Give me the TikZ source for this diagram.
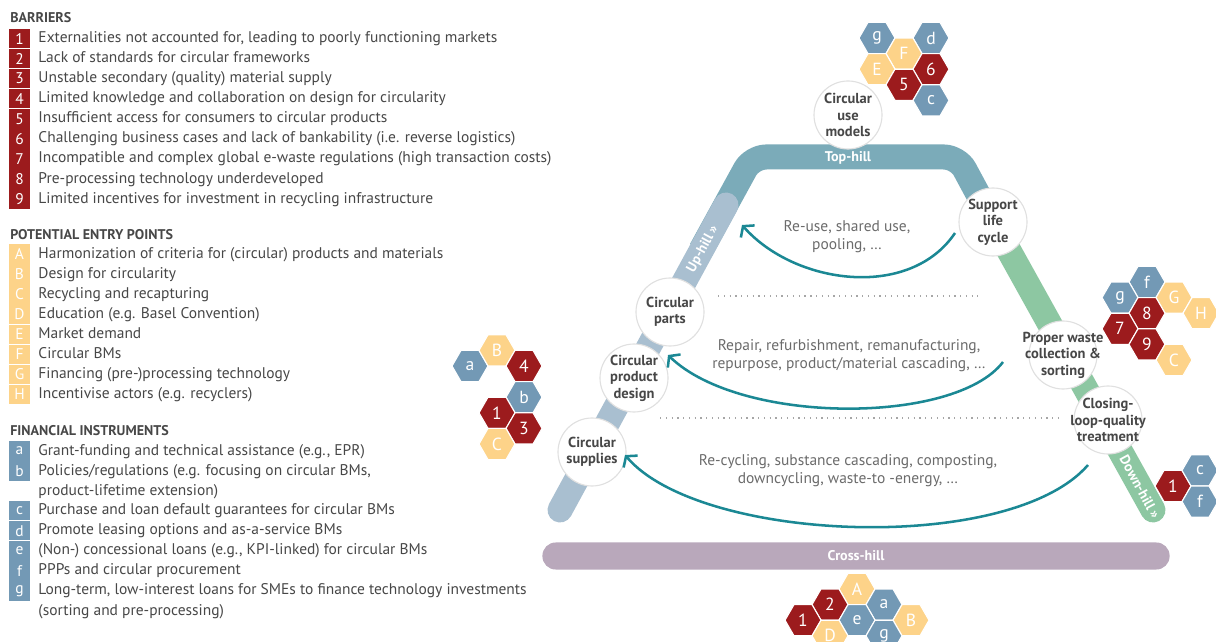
\documentclass[tikz,border=0pt]{standalone}
\usepackage{fontspec}
\setmainfont{PT Sans}
\usetikzlibrary{shapes.geometric, positioning, arrows.meta}

\definecolor{barred}{HTML}{9C1B1D}
\definecolor{baryel}{HTML}{FDD389}
\definecolor{barblu}{HTML}{7399B5}
\definecolor{txt}{HTML}{474747}
\definecolor{softtxt}{HTML}{6B6B6B}
\definecolor{tophill}{HTML}{7BABB9}
\definecolor{uphill}{HTML}{A9BFD0}
\definecolor{downhill}{HTML}{8DC7A2}
\definecolor{crosshill}{HTML}{B9A8BB}
\definecolor{loopcol}{HTML}{1B8894}

\begin{document}
\begin{tikzpicture}[
    x=.025cm, y=-.025cm,
    head/.style={
        anchor=west, inner sep=0pt, font=\bfseries, text=txt
    },
    key/.style={
        inner sep=0pt, minimum width=.5cm, minimum height=.4875cm, text=white,
        font=\fontsize{11}{13}\selectfont
    },
    keyR/.style={key, fill=barred},
    keyY/.style={key, fill=baryel},
    keyB/.style={key, fill=barblu},
    item/.style={
        inner sep=0pt, minimum height=.4875cm, text=txt,
        text height=1.6ex, text depth=.45ex, font=\fontsize{11}{13}\selectfont
    },
    hex/.style={
        regular polygon, regular polygon sides=6, minimum size=.9cm, inner sep=0pt,
        draw=white, line width=.8pt, text=white, font=\fontsize{12.5}{14}\selectfont
    },
    hexR/.style={hex, fill=barred},
    hexY/.style={hex, fill=baryel},
    hexB/.style={hex, fill=barblu},
    stage/.style={
        draw=black!12, line width=.8pt, fill=white, circle, minimum size=1.7cm,
        inner sep=-11pt, align=center, font=\bfseries\fontsize{10.3}{11.7}\selectfont, text=txt
    },
    band/.style={line width=.625cm},
    bandlbl/.style={
        inner sep=0pt, text=white, font=\bfseries
    },
    loopar/.style={
        draw=loopcol, line width=1.8pt, -{Straight Barb[length=5pt, width=13pt]}
    },
    looplbl/.style={
        align=center, text=softtxt, inner sep=0pt, font=\fontsize{11}{12.8}\selectfont
    },
    sep/.style={
        draw=black!35, line width=.9pt, dash pattern=on .9pt off 3.2pt
    }
]
    \clip (0,0) rectangle (1216,642);

    % barriers
    \node[head] (hbar) at (10,18) {BARRIERS};
    \node[keyR] (k1) at (19.5,38.5) {1};
    \node[keyR,below=0pt of k1] (k2) {2};
    \node[keyR,below=0pt of k2] (k3) {3};
    \node[keyR,below=0pt of k3] (k4) {4};
    \node[keyR,below=0pt of k4] (k5) {5};
    \node[keyR,below=0pt of k5] (k6) {6};
    \node[keyR,below=0pt of k6] (k7) {7};
    \node[keyR,below=0pt of k7] (k8) {8};
    \node[keyR,below=0pt of k8] (k9) {9};
    \node[item,right=.21cm of k1] (t1) {Externalities not accounted for, leading to poorly functioning markets};
    \node[item,right=.21cm of k2] (t2) {Lack of standards for circular frameworks};
    \node[item,right=.21cm of k3] (t3) {Unstable secondary (quality) material supply};
    \node[item,right=.21cm of k4] (t4) {Limited knowledge and collaboration on design for circularity};
    \node[item,right=.21cm of k5] (t5) {Insufficient access for consumers to circular products};
    \node[item,right=.21cm of k6] (t6) {Challenging business cases and lack of bankability (i.e. reverse logistics)};
    \node[item,right=.21cm of k7] (t7) {Incompatible and complex global e-waste regulations (high transaction costs)};
    \node[item,right=.21cm of k8] (t8) {Pre-processing technology underdeveloped};
    \node[item,right=.21cm of k9] (t9) {Limited incentives for investment in recycling infrastructure};

    % entry points
    \node[head] (hent) at (10,235) {POTENTIAL ENTRY POINTS};
    \node[keyY] (kA) at (19.5,254) {A};
    \node[keyY,below=0pt of kA] (kB) {B};
    \node[keyY,below=0pt of kB] (kC) {C};
    \node[keyY,below=0pt of kC] (kD) {D};
    \node[keyY,below=0pt of kD] (kE) {E};
    \node[keyY,below=0pt of kE] (kF) {F};
    \node[keyY,below=0pt of kF] (kG) {G};
    \node[keyY,below=0pt of kG] (kH) {H};
    \node[item,right=.21cm of kA] (tA) {Harmonization of criteria for (circular) products and materials};
    \node[item,right=.21cm of kB] (tB) {Design for circularity};
    \node[item,right=.21cm of kC] (tC) {Recycling and recapturing};
    \node[item,right=.21cm of kD] (tD) {Education (e.g. Basel Convention)};
    \node[item,right=.21cm of kE] (tE) {Market demand};
    \node[item,right=.21cm of kF] (tF) {Circular BMs};
    \node[item,right=.21cm of kG] (tG) {Financing (pre-)processing technology};
    \node[item,right=.21cm of kH] (tH) {Incentivise actors (e.g. recyclers)};

    % financial instruments
    \node[head] (hfin) at (10,431) {FINANCIAL INSTRUMENTS};
    \node[keyB] (ka) at (19.5,451) {a};
    \node[keyB,below=0pt of ka] (kb) {b};
    \node[keyB,below=.4875cm of kb] (kc) {c};
    \node[keyB,below=0pt of kc] (kd) {d};
    \node[keyB,below=0pt of kd] (ke) {e};
    \node[keyB,below=0pt of ke] (kf) {f};
    \node[keyB,below=0pt of kf] (kg) {g};
    \node[item,right=.21cm of ka] (ta) {Grant-funding and technical assistance (e.g., EPR)};
    \node[item,right=.21cm of kb] (tb) {Policies/regulations (e.g. focusing on circular BMs,};
    \node[item,below=0pt of tb.south west,anchor=north west] (tb2) {product-lifetime extension)};
    \node[item,right=.21cm of kc] (tc) {Purchase and loan default guarantees for circular BMs};
    \node[item,right=.21cm of kd] (td) {Promote leasing options and as-a-service BMs};
    \node[item,right=.21cm of ke] (te) {(Non-) concessional loans (e.g., KPI-linked) for circular BMs};
    \node[item,right=.21cm of kf] (tf) {PPPs and circular procurement};
    \node[item,right=.21cm of kg] (tg) {Long-term, low-interest loans for SMEs to finance technology investments};
    \node[item,below=0pt of tg.south west,anchor=north west] (tg2) {(sorting and pre-processing)};

    % hill bands
    \draw[band, tophill, rounded corners=.35cm] (701,250) -- (752,157) -- (958,157) -- (993,222);
    \draw[band, uphill, line cap=round] (560,510) -- (726,205);
    \draw[band, downhill, line cap=round] (993,222) -- (1153,510);
    \node[bandlbl] (top) at (848,158) {Top-hill};
    \node[bandlbl,rotate=61.4] (up) at (703,249) {Up-hill »};
    \node[bandlbl,rotate=-61.4] (down) at (1140,487) {Down-hill »};
    \node[bandlbl,fill=crosshill,rounded corners=.33cm,minimum width=15.675cm,minimum height=.675cm] (cross) at (856,556) {Cross-hill};

    % stages
    \node[stage] (use) at (848,115) {Circular\\use\\models};
    \node[stage] (life) at (993,222) {Support\\life\\cycle};
    \node[stage] (parts) at (670,312) {Circular\\parts};
    \node[stage] (design) at (634,378) {Circular\\product\\design};
    \node[stage] (supply) at (592,452) {Circular\\supplies};
    \node[stage] (waste) at (1063,355) {Proper waste\\collection \&\\sorting};
    \node[stage] (treat) at (1108,420) {Closing-\\loop-quality\\treatment};

    % loops
    \coordinate (l1s) at (955,233);
    \coordinate (l1e) at (742,225);
    \coordinate (l2s) at (1003,362);
    \coordinate (l2e) at (668,355);
    \coordinate (l3s) at (1088,465);
    \coordinate (l3e) at (625,455);
    \draw[loopar] (l1s) .. controls (910,300) and (795,285) .. (l1e);
    \draw[loopar] (l2s) .. controls (955,425) and (740,425) .. (l2e);
    \draw[loopar] (l3s) .. controls (1010,555) and (700,543) .. (l3e);
    \node[looplbl] (reuse) at (847,237) {Re-use, shared use,\\pooling, …};
    \node[looplbl] (repair) at (849,356) {Repair, refurbishment, remanufacturing,\\repurpose, product/material cascading, …};
    \node[looplbl] (recycle) at (848,471) {Re-cycling, substance cascading, composting,\\downcycling, waste-to -energy, …};
    \coordinate (s1a) at (718,296);
    \coordinate (s1b) at (978,296);
    \coordinate (s2a) at (660,418);
    \coordinate (s2b) at (1062,418);
    \draw[sep] (s1a) -- (s1b);
    \draw[sep] (s2a) -- (s2b);

    % hexagon clusters
    \node[hexB] (lba) at (470,366) {a};
    \node[hexY] (lbB) at (497,350.4) {B};
    \node[hexR] (lb4) at (524,366) {4};
    \node[hexB] (lbb) at (524,397.2) {b};
    \node[hexR] (lb1) at (497,412.8) {1};
    \node[hexR] (lb3) at (524,428.4) {3};
    \node[hexY] (lbC) at (497,444) {C};

    \node[hexB] (tpg) at (877,38) {g};
    \node[hexB] (tpd) at (931,38) {d};
    \node[hexY] (tpF) at (904,53.6) {F};
    \node[hexY] (tpE) at (877,69.2) {E};
    \node[hexR] (tp6) at (931,69.2) {6};
    \node[hexR] (tp5) at (904,84.8) {5};
    \node[hexB] (tpc) at (931,100.4) {c};

    \node[hexB] (rtf) at (1147,282) {f};
    \node[hexB] (rtg) at (1120,297.6) {g};
    \node[hexY] (rtG) at (1174,297.6) {G};
    \node[hexR] (rt8) at (1147,313.2) {8};
    \node[hexY] (rtH) at (1201,313.2) {H};
    \node[hexR] (rt7) at (1120,328.8) {7};
    \node[hexR] (rt9) at (1147,344.4) {9};
    \node[hexY] (rtC) at (1174,360) {C};

    \node[hexR] (dn1) at (1173,486) {1};
    \node[hexB] (dnc) at (1200,470.4) {c};
    \node[hexB] (dnf) at (1200,501.6) {f};

    \node[hexY] (btA) at (857,589) {A};
    \node[hexR] (bt2) at (830,604.6) {2};
    \node[hexB] (bta) at (884,604.6) {a};
    \node[hexR] (bt1) at (803,620.2) {1};
    \node[hexB] (bte) at (857,620.2) {e};
    \node[hexY] (btB) at (911,620.2) {B};
    \node[hexY] (btD) at (830,635.8) {D};
    \node[hexB] (btg) at (884,635.8) {g};

\end{tikzpicture}
\end{document}
